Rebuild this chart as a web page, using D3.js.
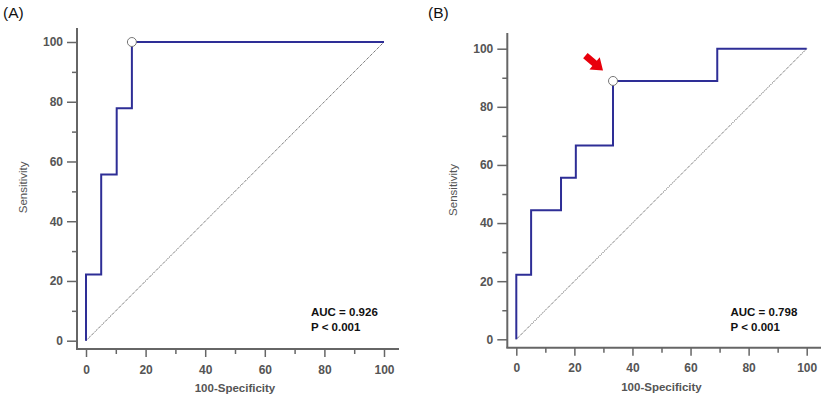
<!DOCTYPE html>
<html>
<head>
<meta charset="utf-8">
<script src="https://cdn.jsdelivr.net/npm/d3@7"></script>
<style>
  body { margin: 0; background: #fff; }
  svg { display: block; font-family: "Liberation Sans", Arial, sans-serif; }
</style>
</head>
<body>
<div id="chart"></div>
<script>
// ROC operating points (100-Specificity, Sensitivity)
var fprA = [0, 0, 5.1, 10.3, 15.4, 100];
var tprA = [0, 22.2, 55.6, 77.8, 100, 100];
var cutA = [15.4, 100];

var fprB = [0, 0, 5.1, 15.4, 20.5, 33.3, 69.2, 100];
var tprB = [0, 22.2, 44.4, 55.6, 66.7, 88.9, 100, 100];
var cutB = [33.3, 88.9];

var majorTicks = [0, 20, 40, 60, 80, 100];
var minorTicks = [10, 30, 50, 70, 90];

var labels = ["(A)", "(B)"];
var aucText = ["AUC = 0.926", "AUC = 0.798"];
var pText = ["P < 0.001", "P < 0.001"];

var W = 825, H = 398;
var axisColor = "#666", textColor = "#555", curveColor = "#2e2e96";

var svg = d3.select("#chart").append("svg")
    .attr("width", W)
    .attr("height", H);

// panel boxes: plot ranges and axis line positions
var panels = [
    {fpr: fprA, tpr: tprA, cut: cutA, x0: 86, x1: 384, y0: 340.7, y1: 42,
     axX: 77, axY: 349, axTop: 28, axRight: 399, label: [3, 18], noteX: 311, arrow: false},
    {fpr: fprB, tpr: tprB, cut: cutB, x0: 516.3, x1: 806.7, y0: 339.3, y1: 48.7,
     axX: 507.3, axY: 347.7, axTop: 33, axRight: 821, label: [428, 18], noteX: 730.5, arrow: true}
];

panels.forEach(function(p, k) {
    var g = svg.append("g");

    var x = d3.scaleLinear().domain([0, 100]).range([p.x0, p.x1]);
    var y = d3.scaleLinear().domain([0, 100]).range([p.y0, p.y1]);

    // panel letter
    g.append("text")
        .attr("x", p.label[0])
        .attr("y", p.label[1])
        .attr("font-size", 15.5)
        .attr("fill", "#111")
        .text(labels[k]);

    // axis lines
    g.append("line")
        .attr("x1", p.axX).attr("x2", p.axX)
        .attr("y1", p.axTop).attr("y2", p.axY)
        .attr("stroke", axisColor).attr("stroke-width", 2);
    g.append("line")
        .attr("x1", p.axX - 1).attr("x2", p.axRight)
        .attr("y1", p.axY).attr("y2", p.axY)
        .attr("stroke", axisColor).attr("stroke-width", 2);

    // y axis ticks
    var yMajor = g.append("g")
        .attr("transform", "translate(" + p.axX + ",0)")
        .call(d3.axisLeft(y).tickValues(majorTicks).tickSize(10).tickPadding(4));
    var yMinor = g.append("g")
        .attr("transform", "translate(" + p.axX + ",0)")
        .call(d3.axisLeft(y).tickValues(minorTicks).tickSize(5).tickFormat(""));

    // x axis ticks
    var xMajor = g.append("g")
        .attr("transform", "translate(0," + p.axY + ")")
        .call(d3.axisBottom(x).tickValues(majorTicks).tickSize(8).tickPadding(8));
    var xMinor = g.append("g")
        .attr("transform", "translate(0," + p.axY + ")")
        .call(d3.axisBottom(x).tickValues(minorTicks).tickSize(5).tickFormat(""));

    [yMajor, yMinor, xMajor, xMinor].forEach(function(a) {
        a.select(".domain").remove();
        a.selectAll("line").attr("stroke", axisColor).attr("stroke-width", 1.5);
        a.selectAll("text")
            .attr("fill", textColor)
            .attr("font-size", 12)
            .attr("font-weight", "bold")
            .attr("font-family", "Liberation Sans, Arial, sans-serif");
    });

    // axis titles
    g.append("text")
        .attr("x", (p.x0 + p.x1) / 2)
        .attr("y", p.axY + 43)
        .attr("text-anchor", "middle")
        .attr("font-size", 11.5)
        .attr("font-weight", "bold")
        .attr("fill", textColor)
        .text("100-Specificity");

    g.append("text")
        .attr("transform", "translate(" + (p.axX - 50) + "," + ((p.y0 + p.y1) / 2 - 4) + ") rotate(-90)")
        .attr("text-anchor", "middle")
        .attr("font-size", 11.5)
        .attr("fill", textColor)
        .text("Sensitivity");

    // reference diagonal
    g.append("line")
        .attr("x1", x(0)).attr("y1", y(0))
        .attr("x2", x(100)).attr("y2", y(100))
        .attr("stroke", "#444")
        .attr("stroke-width", 1)
        .attr("stroke-dasharray", "1,1");

    // ROC curve
    var pts = p.fpr.map(function(d, i) { return [d, p.tpr[i]]; });
    var line = d3.line()
        .x(function(d) { return x(d[0]); })
        .y(function(d) { return y(d[1]); })
        .curve(d3.curveStepAfter);

    g.append("path")
        .datum(pts)
        .attr("d", line)
        .attr("fill", "none")
        .attr("stroke", curveColor)
        .attr("stroke-width", 2);

    // criterion marker
    g.append("circle")
        .attr("cx", x(p.cut[0]))
        .attr("cy", y(p.cut[1]))
        .attr("r", 4.5)
        .attr("fill", "#fff")
        .attr("stroke", "#777")
        .attr("stroke-width", 1);

    if (p.arrow) {
        var tx = x(p.cut[0]) - 10, ty = y(p.cut[1]) - 10.5;
        g.append("path")
            .attr("d", "M0,0 L-11,-8 L-11,-3.5 L-23,-3.5 L-23,3.5 L-11,3.5 L-11,8 Z")
            .attr("transform", "translate(" + tx + "," + ty + ") rotate(40)")
            .attr("fill", "#e8000b");
    }

    // AUC annotation
    g.append("text")
        .attr("x", p.noteX).attr("y", 316)
        .attr("font-size", 11.5)
        .attr("font-weight", "bold")
        .attr("fill", "#111")
        .text(aucText[k]);
    g.append("text")
        .attr("x", p.noteX).attr("y", 330.5)
        .attr("font-size", 11.5)
        .attr("font-weight", "bold")
        .attr("fill", "#111")
        .text(pText[k]);
});
</script>
</body>
</html>
